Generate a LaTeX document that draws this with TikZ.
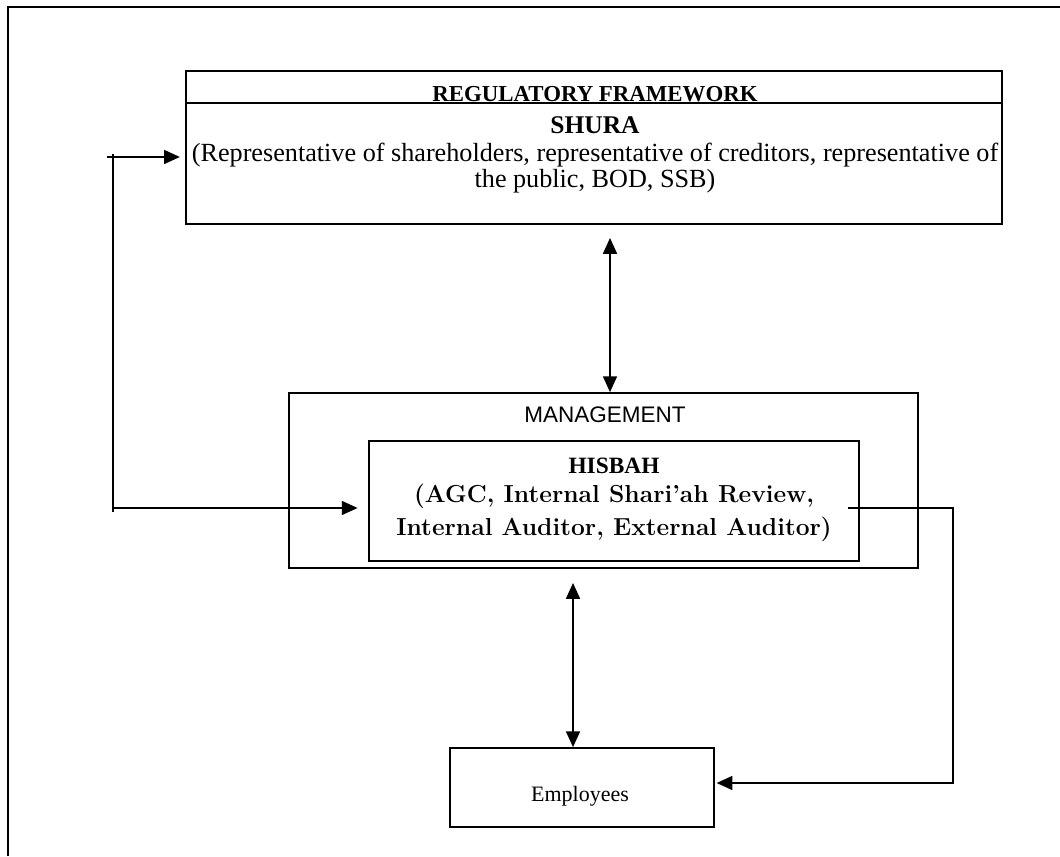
\documentclass[tikz,border=0pt]{standalone}
\usepackage{fontspec}
\newfontfamily\serifrm{Liberation Serif}
\newfontfamily\sansrm{Liberation Sans}
\usetikzlibrary{arrows.meta}

\tikzstyle{line} = [line width=0.8pt]
\tikzstyle{frame} = [line width=1.6pt]
\tikzstyle{box} = [draw, line width=1pt, inner sep=0pt]
\tikzstyle{arw} = [-{Triangle[length=9pt,width=8pt]}, line width=0.8pt]
\tikzstyle{dblarw} = [{Triangle[length=9pt,width=8pt]}-{Triangle[length=9pt,width=8pt]}, line width=0.8pt]

\begin{document}
\begin{tikzpicture}
\useasboundingbox (0,0) rectangle (21.2,17.12);

% outer frame
\draw [frame] (0.16,0) -- (0.16,16.98) -- (21.2,16.98);

% boxes
\node [box, minimum width=16.32cm, minimum height=0.64cm] (regulatory) at (11.88,15.38) {};
\node [box, minimum width=16.32cm, minimum height=2.42cm] (shura) at (11.88,13.85) {};
\node [box, minimum width=12.58cm, minimum height=3.50cm] (management) at (12.07,7.51) {};
\node [box, minimum width=9.80cm, minimum height=2.40cm] (hisbah) at (12.28,7.10) {};
\node [box, minimum width=5.28cm, minimum height=1.58cm] (employees) at (11.64,1.37) {};

% texts
\node [anchor=base] (regtitle) at (11.9,15.08) {\serifrm\bfseries\fontsize{13}{15}\selectfont REGULATORY FRAMEWORK};
\node (shuratitle) at (11.9,14.62) {\serifrm\bfseries\fontsize{14.5}{16}\selectfont SHURA};
\node [align=center, font=\serifrm\fontsize{14.9}{14.8}\selectfont] (shurabody) at (11.9,13.76)
  {(Representative of shareholders, representative of creditors, representative of\\the public, BOD, SSB)};
\node (mgmttext) at (12.1,8.82) {\sansrm\fontsize{12.8}{14}\selectfont MANAGEMENT};
\node (hisbahtitle) at (12.28,7.80) {\serifrm\bfseries\fontsize{13.3}{15}\selectfont HISBAH};
\node [align=center, font=\bfseries\fontsize{14}{18.5}\selectfont] (hisbahbody) at (12.28,6.86)
  {(AGC, Internal Shari’ah Review,\\Internal Auditor, External Auditor)};
\node (emptext) at (11.6,1.2) {\serifrm\fontsize{12.5}{14}\selectfont Employees};

% connectors
\coordinate (lin) at (2.14,13.98);
\coordinate (ltop) at (2.26,14.04);
\coordinate (lout) at (2.26,6.96);
\coordinate (lbot) at (2.26,6.88);
\draw [line] (ltop) -- (lbot);
\draw [arw, shorten >=3pt] (lin) -- (lin -| shura.west);
\draw [arw, shorten >=6pt] (lout) -- (lout -| hisbah.west);

\coordinate (rin) at (16.96,6.96);
\coordinate (rdown) at (19.06,1.46);
\draw [arw, shorten >=1pt] (rin) -| (rdown) -- (rdown -| employees.east);

\coordinate (ua) at (12.20,12.36);
\draw [dblarw] (ua) -- (ua |- management.north);
\coordinate (la) at (11.46,5.46);
\draw [dblarw] (la) -- (la |- employees.north);

\end{tikzpicture}
\end{document}
